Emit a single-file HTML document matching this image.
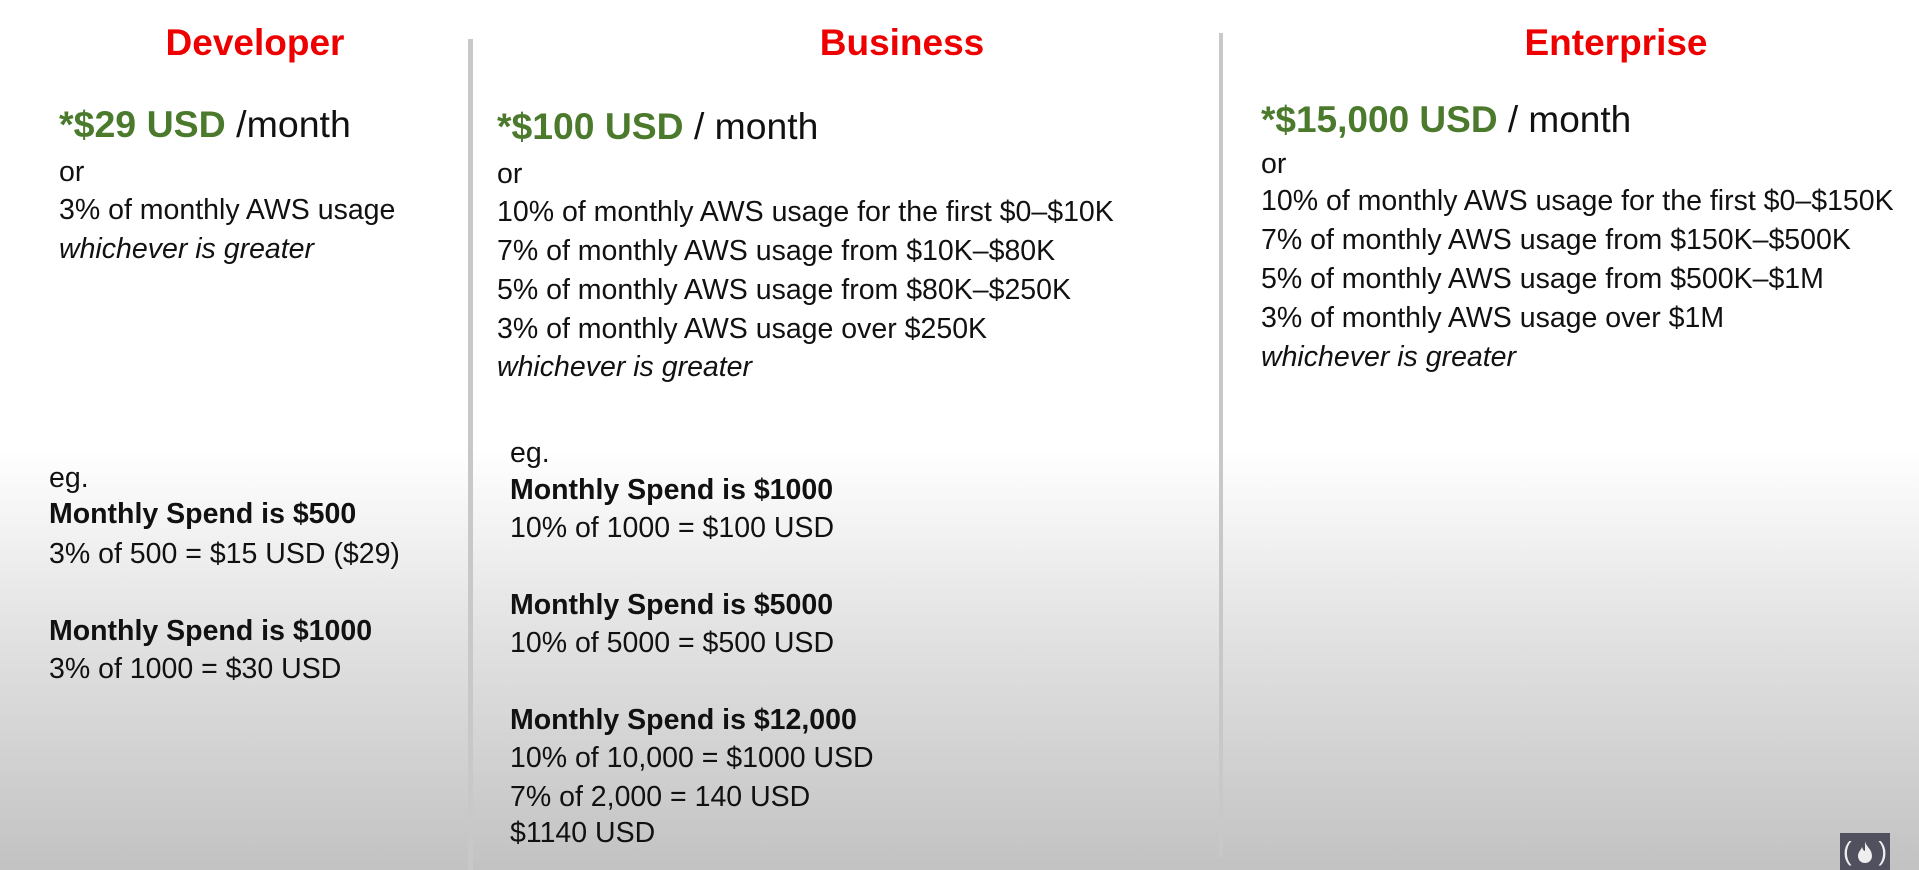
<!DOCTYPE html>
<html><head><meta charset="utf-8"><style>
html,body{margin:0;padding:0}
body{width:1919px;height:870px;position:relative;overflow:hidden;font-family:"Liberation Sans",sans-serif;color:#111;
background:linear-gradient(to bottom,#ffffff 0px,#ffffff 450px,#e4e4e4 620px,#c2c2c2 870px);}
.l{position:absolute;white-space:nowrap;line-height:1;font-size:28.5px}
.t{font-size:37px;font-weight:bold;color:#ee0000;transform:translateX(-50%)}
.p{font-size:37.5px}
.g{color:#4b7a2d;font-weight:bold}
.i{font-style:italic}
.b{font-weight:bold}
.div{position:absolute;background:#c8c8c8}
</style></head><body>
<div class="div" style="left:468px;top:39px;width:5px;height:831px"></div>
<div class="div" style="left:1219px;top:33px;width:4px;height:824px"></div>

<div class="l t" style="left:255px;top:24px">Developer</div>
<div class="l t" style="left:902px;top:24px">Business</div>
<div class="l t" style="left:1616px;top:24px">Enterprise</div>

<div>
<div class="l p" style="left:59px;top:106px"><span class="g">*$29 USD</span> /month</div>
<div class="l" style="left:59px;top:158px">or</div>
<div class="l" style="left:59px;top:196px">3% of monthly AWS usage</div>
<div class="l i" style="left:59px;top:235px">whichever is greater</div>
<div class="l" style="left:49px;top:464px">eg.</div>
<div class="l b" style="left:49px;top:500px">Monthly Spend is $500</div>
<div class="l" style="left:49px;top:540px">3% of 500 = $15 USD ($29)</div>
<div class="l b" style="left:49px;top:617px">Monthly Spend is $1000</div>
<div class="l" style="left:49px;top:655px">3% of 1000 = $30 USD</div>
</div>

<div>
<div class="l p" style="left:497px;top:108px;font-size:37.3px"><span class="g">*$100 USD</span> / month</div>
<div class="l" style="left:497px;top:160px">or</div>
<div class="l" style="left:497px;top:198px">10% of monthly AWS usage for the first $0–$10K</div>
<div class="l" style="left:497px;top:237px">7% of monthly AWS usage from $10K–$80K</div>
<div class="l" style="left:497px;top:276px">5% of monthly AWS usage from $80K–$250K</div>
<div class="l" style="left:497px;top:315px">3% of monthly AWS usage over $250K</div>
<div class="l i" style="left:497px;top:353px">whichever is greater</div>
<div class="l" style="left:510px;top:439px">eg.</div>
<div class="l b" style="left:510px;top:476px">Monthly Spend is $1000</div>
<div class="l" style="left:510px;top:514px">10% of 1000 = $100 USD</div>
<div class="l b" style="left:510px;top:591px">Monthly Spend is $5000</div>
<div class="l" style="left:510px;top:629px">10% of 5000 = $500 USD</div>
<div class="l b" style="left:510px;top:706px">Monthly Spend is $12,000</div>
<div class="l" style="left:510px;top:744px">10% of 10,000 = $1000 USD</div>
<div class="l" style="left:510px;top:783px">7% of 2,000 = 140 USD</div>
<div class="l" style="left:510px;top:819px">$1140 USD</div>
</div>

<div>
<div class="l p" style="left:1261px;top:101px;font-size:37px"><span class="g">*$15,000 USD</span> / month</div>
<div class="l" style="left:1261px;top:150px">or</div>
<div class="l" style="left:1261px;top:187px">10% of monthly AWS usage for the first $0–$150K</div>
<div class="l" style="left:1261px;top:226px">7% of monthly AWS usage from $150K–$500K</div>
<div class="l" style="left:1261px;top:265px">5% of monthly AWS usage from $500K–$1M</div>
<div class="l" style="left:1261px;top:304px">3% of monthly AWS usage over $1M</div>
<div class="l i" style="left:1261px;top:343px">whichever is greater</div>
</div>

<div style="position:absolute;left:1840px;top:833px;width:50px;height:37px;background:#50505f;color:#eee;font-size:26px;line-height:37px;text-align:center;font-family:'Liberation Sans',sans-serif">
<span style="position:absolute;left:3px;top:0">(</span>
<svg style="position:absolute;left:17px;top:8px" width="16" height="22" viewBox="0 0 16 22"><path d="M8 0 C9 6 15 8 15 15 C15 19 12 22 8 22 C4 22 1 19 1 15 C1 11 4 9 5 6 C6 9 7 10 8 10 C8 7 8 4 8 0Z" fill="#eee"/></svg>
<span style="position:absolute;right:3px;top:0">)</span>
</div>
</body></html>
